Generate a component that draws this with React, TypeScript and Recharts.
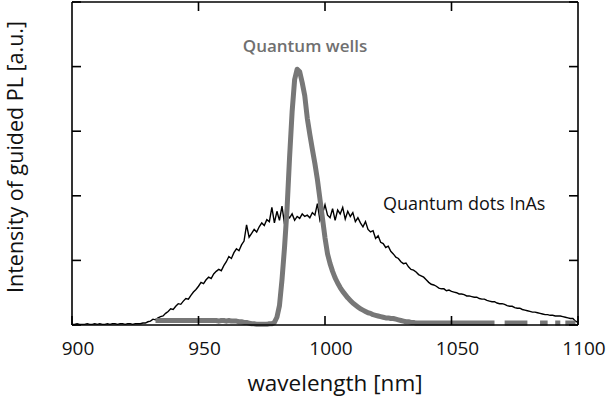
import { LineChart, Line, XAxis, YAxis } from "recharts";

// sampling grid, 1 nm steps
const wavelengths = Array.from({ length: 201 }, (_, i) => 900 + i);

// Quantum dots InAs (thin black trace)
const dotsPL = [
  0.01, 0.01, 0.02, 0.01, 0.01, 0.01, 0.02, 0.01, 0.01, 0.02,
  0.01, 0.02, 0.01, 0.01, 0.02, 0.01, 0.02, 0.02, 0.01, 0.02,
  0.02, 0.01, 0.02, 0.02, 0.01, 0.02, 0.02, 0.02, 0.03, 0.03,
  0.05, 0.06, 0.09, 0.08, 0.11, 0.13, 0.14, 0.18, 0.21, 0.25,
  0.24, 0.29, 0.33, 0.32, 0.37, 0.41, 0.4, 0.46, 0.51, 0.55,
  0.6, 0.66, 0.64, 0.7, 0.74, 0.72, 0.79, 0.83, 0.86, 0.84,
  0.92, 0.98, 1.06, 1.03, 1.12, 1.18, 1.15, 1.24, 1.3, 1.55,
  1.36, 1.42, 1.48, 1.44, 1.52, 1.58, 1.54, 1.63, 1.6, 1.82,
  1.58, 1.76, 1.62, 1.84, 1.56, 1.7, 1.66, 1.72, 1.62, 1.68,
  1.65, 1.72, 1.68, 1.7, 1.66, 1.74, 1.7, 1.88, 1.62, 1.72,
  1.86, 1.7, 1.66, 1.8, 1.62, 1.78, 1.72, 1.82, 1.64, 1.76,
  1.68, 1.74, 1.6, 1.66, 1.58, 1.52, 1.6, 1.48, 1.44, 1.46,
  1.34, 1.38, 1.28, 1.26, 1.2, 1.22, 1.14, 1.1, 1.05, 1.03,
  0.98, 0.95, 0.96, 0.9, 0.86, 0.85, 0.82, 0.78, 0.76, 0.74,
  0.7, 0.66, 0.63, 0.62, 0.6, 0.57, 0.56, 0.56, 0.53, 0.54,
  0.52, 0.51, 0.5, 0.48, 0.48, 0.47, 0.45, 0.45, 0.44, 0.43,
  0.43, 0.41, 0.4, 0.4, 0.38, 0.37, 0.36, 0.36, 0.34, 0.33,
  0.33, 0.32, 0.3, 0.29, 0.29, 0.27, 0.26, 0.26, 0.24, 0.23,
  0.22, 0.21, 0.2, 0.2, 0.19, 0.18, 0.17, 0.16, 0.16, 0.15,
  0.15, 0.14, 0.14, 0.14, 0.13, 0.12, 0.11, 0.1, 0.1, 0.06,
  0.04,
];

// Quantum wells (thick grey trace), gaps where the trace breaks
const wellsPL = [
  null, null, null, null, null, null, null, null, null, null,
  null, null, null, null, null, null, null, null, null, null,
  null, null, null, null, null, null, null, null, null, null,
  null, null, null, 0.07, 0.07, 0.07, 0.07, 0.07, 0.07, 0.07,
  0.07, 0.07, 0.07, 0.07, 0.07, 0.07, 0.07, 0.07, 0.07, 0.07,
  0.07, 0.07, 0.07, 0.07, 0.07, 0.07, 0.07, 0.07, 0.06, 0.07,
  0.07, 0.06, 0.07, 0.06, 0.06, 0.06, 0.05, 0.05, 0.04, 0.04,
  0.03, 0.02, 0.02, 0.01, 0.01, 0.01, 0.01, 0.01, 0.02, 0.02,
  0.04, 0.12, 0.3, 0.7, 1.2, 1.8, 2.6, 3.3, 3.8, 3.96,
  3.92, 3.75, 3.55, 3.2, 2.95, 2.72, 2.5, 2.25, 1.95, 1.65,
  1.35, 1.1, 0.95, 0.83, 0.73, 0.65, 0.58, 0.52, 0.47, 0.42,
  0.38, 0.34, 0.31, 0.28, 0.25, 0.23, 0.21, 0.19, 0.18, 0.16,
  0.15, 0.14, 0.13, 0.12, 0.11, 0.11, 0.1, 0.1, 0.09, 0.08,
  0.07, 0.06, 0.05, 0.05, 0.04, 0.04, 0.03, 0.03, 0.03, 0.03,
  0.03, 0.03, 0.03, 0.03, 0.03, 0.03, 0.03, 0.03, 0.03, 0.03,
  0.03, 0.03, 0.03, 0.03, 0.03, 0.03, 0.03, 0.03, 0.03, 0.03,
  0.03, 0.03, 0.03, 0.03, 0.03, 0.03, 0.03, 0.03, null, null,
  null, 0.03, 0.03, 0.03, 0.03, 0.03, 0.03, 0.03, 0.03, 0.03,
  0.03, null, null, null, null, 0.03, 0.03, 0.03, 0.03, null,
  null, 0.03, 0.03, 0.03, null, 0.03, 0.03, 0.03, 0.03, 0.03,
  null,
];

const xTicks = [900, 950, 1000, 1050, 1100];
const xTickLabels = ["900", "950", "1000", "1050", "1100"];
const yTicks = [0, 1, 2, 3, 4, 5];
const xMin = 900;
const xMax = 1100;
const yMax = 5;

const data = wavelengths.map((x, i) => ({ x, qd: dotsPL[i], qw: wellsPL[i] }));

const font = "'Open Sans', sans-serif";

// plot box
const W = 614;
const H = 405;
const plotLeft = 72;
const plotRight = 578;
const plotTop = 2;

function XTick(props: any) {
  const { x, y, payload } = props;
  const i = xTicks.indexOf(payload.value);
  return (
    <text x={x + 6} y={y + 30} textAnchor="middle" fontSize={19} fontFamily={font} fill="#111">
      {xTickLabels[i]}
    </text>
  );
}

export default function App() {
  const axisStyle = { stroke: "#000", strokeWidth: 1.6 };
  const topX = (v: number) => plotLeft + ((v - xMin) / (xMax - xMin)) * (plotRight - plotLeft);
  return (
    <div style={{ position: "absolute", left: 0, top: 0, width: W, height: H, background: "#fff" }}>
      <LineChart
        width={W}
        height={H}
        data={data}
        margin={{ top: plotTop, right: W - plotRight - 2, left: 0, bottom: 0 }}
      >
        <XAxis
          dataKey="x"
          type="number"
          domain={[xMin, xMax]}
          ticks={xTicks}
          height={80}
          axisLine={axisStyle}
          tickLine={axisStyle}
          tickSize={-9}
          tickMargin={9}
          tick={<XTick />}
          interval={0}
        />
        <YAxis
          type="number"
          domain={[0, yMax]}
          ticks={yTicks}
          width={plotLeft}
          axisLine={axisStyle}
          tickLine={axisStyle}
          tickSize={-9}
          tickFormatter={() => ""}
          interval={0}
        />
        <YAxis
          yAxisId="right"
          orientation="right"
          type="number"
          domain={[0, yMax]}
          ticks={yTicks}
          width={2}
          axisLine={axisStyle}
          tickLine={axisStyle}
          tickSize={-9}
          tickMargin={0}
          tickFormatter={() => ""}
          interval={0}
        />
        <Line
          dataKey="qd"
          type="linear"
          stroke="#000"
          strokeWidth={1.4}
          dot={false}
          isAnimationActive={false}
        />
        <Line
          dataKey="qw"
          yAxisId="right"
          type="linear"
          stroke="#777"
          strokeWidth={5}
          strokeLinejoin="round"
          dot={false}
          isAnimationActive={false}
        />
      </LineChart>
      <svg width={W} height={H} style={{ position: "absolute", left: 0, top: 0, pointerEvents: "none" }}>
        {/* top frame with inner ticks */}
        <line x1={plotLeft} x2={plotRight} y1={plotTop} y2={plotTop} stroke="#000" strokeWidth={1.6} />
        {xTicks.slice(1, -1).map((t) => (
          <line key={t} x1={topX(t)} x2={topX(t)} y1={plotTop} y2={plotTop + 9} stroke="#000" strokeWidth={1.6} />
        ))}
        <text x={305} y={52} textAnchor="middle" fontSize={17} fontWeight={600} fontFamily={font} fill="#707070">
          Quantum wells
        </text>
        <text x={383} y={210} fontSize={18} fontFamily={font} fill="#111">
          Quantum dots InAs
        </text>
        <text x={335} y={391} textAnchor="middle" fontSize={22.5} fontFamily={font} fill="#111">
          wavelength [nm]
        </text>
        <text transform="translate(23,157) rotate(-90)" textAnchor="middle" fontSize={21.5} fontFamily={font} fill="#111">
          Intensity of guided PL [a.u.]
        </text>
      </svg>
    </div>
  );
}
